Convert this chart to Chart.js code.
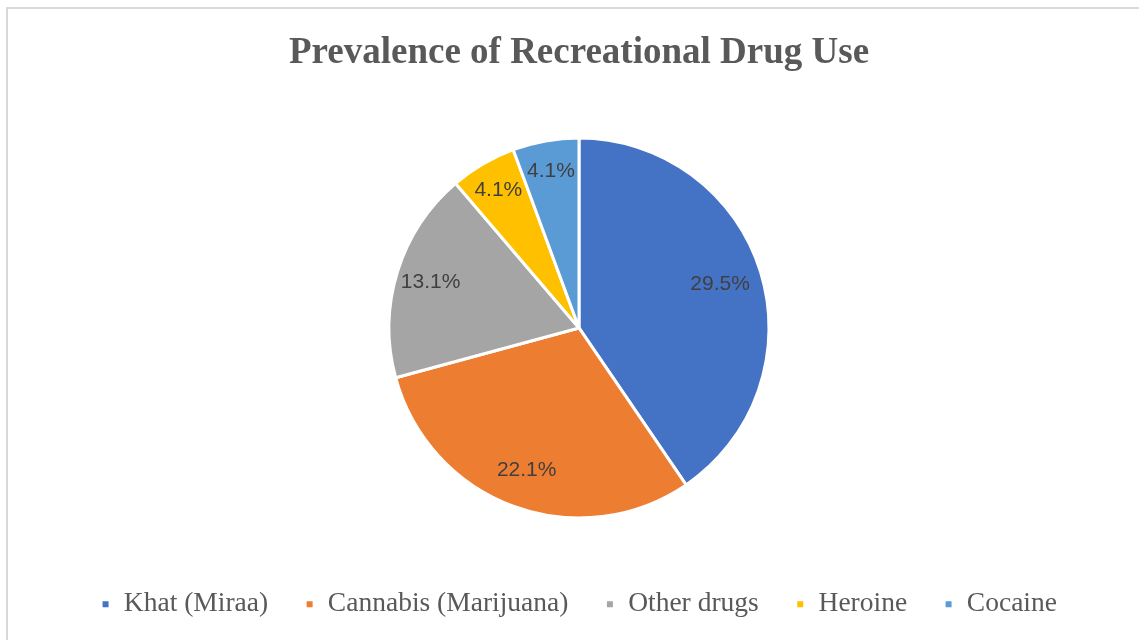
<!DOCTYPE html>
<html>
<head>
<meta charset="utf-8">
<script src="https://cdn.jsdelivr.net/npm/chart.js@4/dist/chart.umd.min.js"></script>
<style>
  html, body { margin: 0; padding: 0; background: #ffffff; overflow: hidden; }
  #frame {
    position: absolute; left: 6px; top: 7px; width: 1200px; height: 700px;
    border: 2px solid #d9d9d9; box-sizing: border-box;
  }
  #wrap { position: absolute; left: 0; top: 0; width: 1139px; height: 640px; }
</style>
</head>
<body>
<div id="frame"></div>
<div id="wrap"><canvas id="chart"></canvas></div>
<script>
const TITLE = "Prevalence of Recreational Drug Use";
const categories = ["Khat (Miraa)", "Cannabis (Marijuana)", "Other drugs", "Heroine", "Cocaine"];
const percentages = [29.5, 22.1, 13.1, 4.1, 4.1];
const sliceColors = ["#4472C4", "#ED7D31", "#A5A5A5", "#FFC000", "#5B9BD5"];

// draws the "29.5%" style labels inside each slice
// (narrow slices get their label pushed a bit further out, like Excel's best fit)
const sliceLabels = {
  id: "sliceLabels",
  afterDatasetsDraw(chart) {
    const { ctx } = chart;
    const meta = chart.getDatasetMeta(0);
    ctx.save();
    ctx.font = "21px 'Liberation Sans', Arial, sans-serif";
    ctx.fillStyle = "#404040";
    ctx.textAlign = "center";
    ctx.textBaseline = "middle";
    meta.data.forEach((arc, i) => {
      const { x, y, startAngle, endAngle, outerRadius } = arc.getProps(
        ["x", "y", "startAngle", "endAngle", "outerRadius"], true);
      const mid = (startAngle + endAngle) / 2;
      const share = (endAngle - startAngle) / (2 * Math.PI);
      const r = outerRadius * (0.85 - 0.18 * share);
      ctx.fillText(percentages[i].toFixed(1) + "%", x + Math.cos(mid) * r, y + Math.sin(mid) * r);
    });
    ctx.restore();
  },
};

new Chart(document.getElementById("chart"), {
  type: "pie",
  data: {
    labels: categories,
    datasets: [
      {
        data: percentages,
        backgroundColor: sliceColors,
        borderColor: "#ffffff",
        borderWidth: 3,
      },
    ],
  },
  options: {
    responsive: true,
    maintainAspectRatio: false,
    animation: false,
    radius: 190,
    layout: { padding: { left: 19, right: 0, top: 0, bottom: 12 } },
    plugins: {
      title: {
        display: true,
        text: TITLE,
        color: "#595959",
        font: { family: "'Liberation Serif', 'Times New Roman', serif", size: 37, weight: "bold" },
        padding: { top: 31, bottom: 27 },
      },
      legend: {
        display: true,
        position: "bottom",
        labels: {
          color: "#595959",
          font: { family: "'Liberation Serif', 'Times New Roman', serif", size: 27.5 },
          boxWidth: 9,
          boxHeight: 9,
          padding: 37,
        },
      },
      tooltip: { enabled: false },
    },
  },
  plugins: [sliceLabels],
});
</script>
</body>
</html>
